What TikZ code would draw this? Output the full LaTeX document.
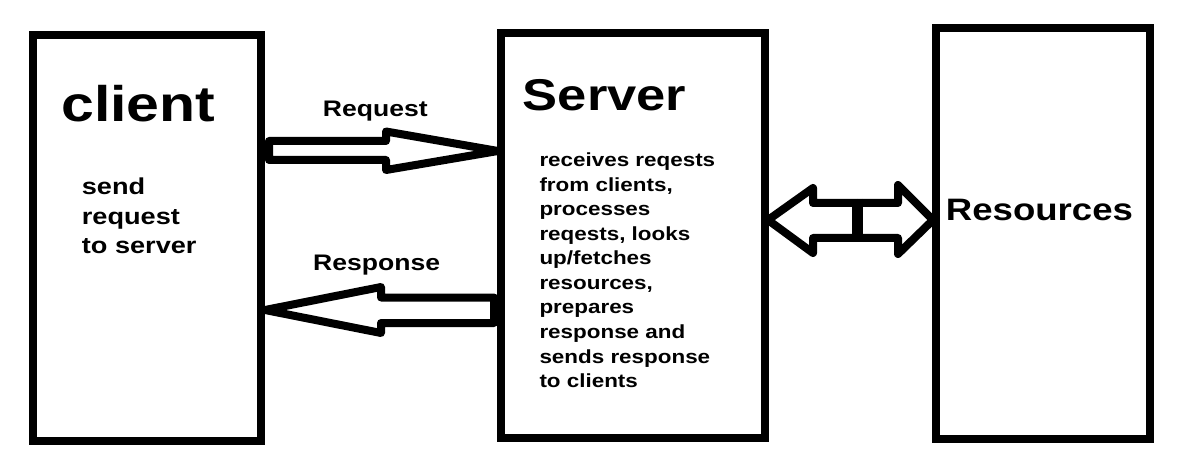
\documentclass[tikz,border=0pt]{standalone}
\usepackage{fontspec}
\setmainfont{Liberation Sans}[FakeStretch=1.18]
\begin{document}
\begin{tikzpicture}[x=1pt,y=-1pt,
  box/.style={draw=black,line width=8pt,fill=white,inner sep=0pt,minimum width=#1},
  blockarrow/.style={draw=black,line width=8pt,line join=round,fill=white},
  title/.style={anchor=base west,inner sep=0pt,font=\bfseries\fontsize{#1}{#1}\selectfont},
  body/.style={anchor=base west,inner sep=0pt}]
\useasboundingbox[fill=white] (0,0) rectangle (1193,462);
% boxes
\node[box=228.5pt,minimum height=406pt] (client) at (146.75,238) {};
\node[box=264pt,minimum height=404.5pt] (server) at (633,235.75) {};
\node[box=214pt,minimum height=411pt] (resources) at (1043,233.5) {};
% titles
\node[title=50] (clientT) at (61,122) {client};
\node[title=44.5] (serverT) at (522.7,111) {Server};
\node[title=31] (resT) at (945.7,221) {Resources};
% bodies
\node[body] (clientB) at (81.7,195) {\parbox[t]{170pt}{\raggedright\bfseries\fontsize{23}{29.5}\selectfont send\\request\\to server}};
\node[body] (serverB) at (539.3,166.7) {\parbox[t]{215pt}{\raggedright\bfseries\fontsize{19}{24.55}\selectfont receives reqests\\from clients,\\processes\\reqests, looks\\up/fetches\\resources,\\prepares\\response and\\sends response\\to clients}};
% arrows
\draw[blockarrow] (269,141) -- (386,141) -- (386,131.5) -- (498,151) -- (386,170) -- (386,160) -- (269,160) -- cycle;
\node[title=22.5] (reqL) at (322.7,116.7) {Request};
\draw[blockarrow] (494,297.5) -- (381,297.5) -- (381,287) -- (265,310) -- (381,333) -- (381,323) -- (494,323) -- cycle;
\node[title=22.5] (respL) at (313,270.7) {Response};
\draw[blockarrow] (857,203) -- (813,203) -- (813,188) -- (768,220) -- (813,253) -- (813,238) -- (857,238) -- cycle;
\draw[blockarrow] (857,203) -- (898,203) -- (898,185) -- (933,220) -- (898,254) -- (898,238) -- (857,238) -- cycle;
\draw[line width=11pt] (857.5,199) -- (857.5,242);
\end{tikzpicture}
\end{document}
